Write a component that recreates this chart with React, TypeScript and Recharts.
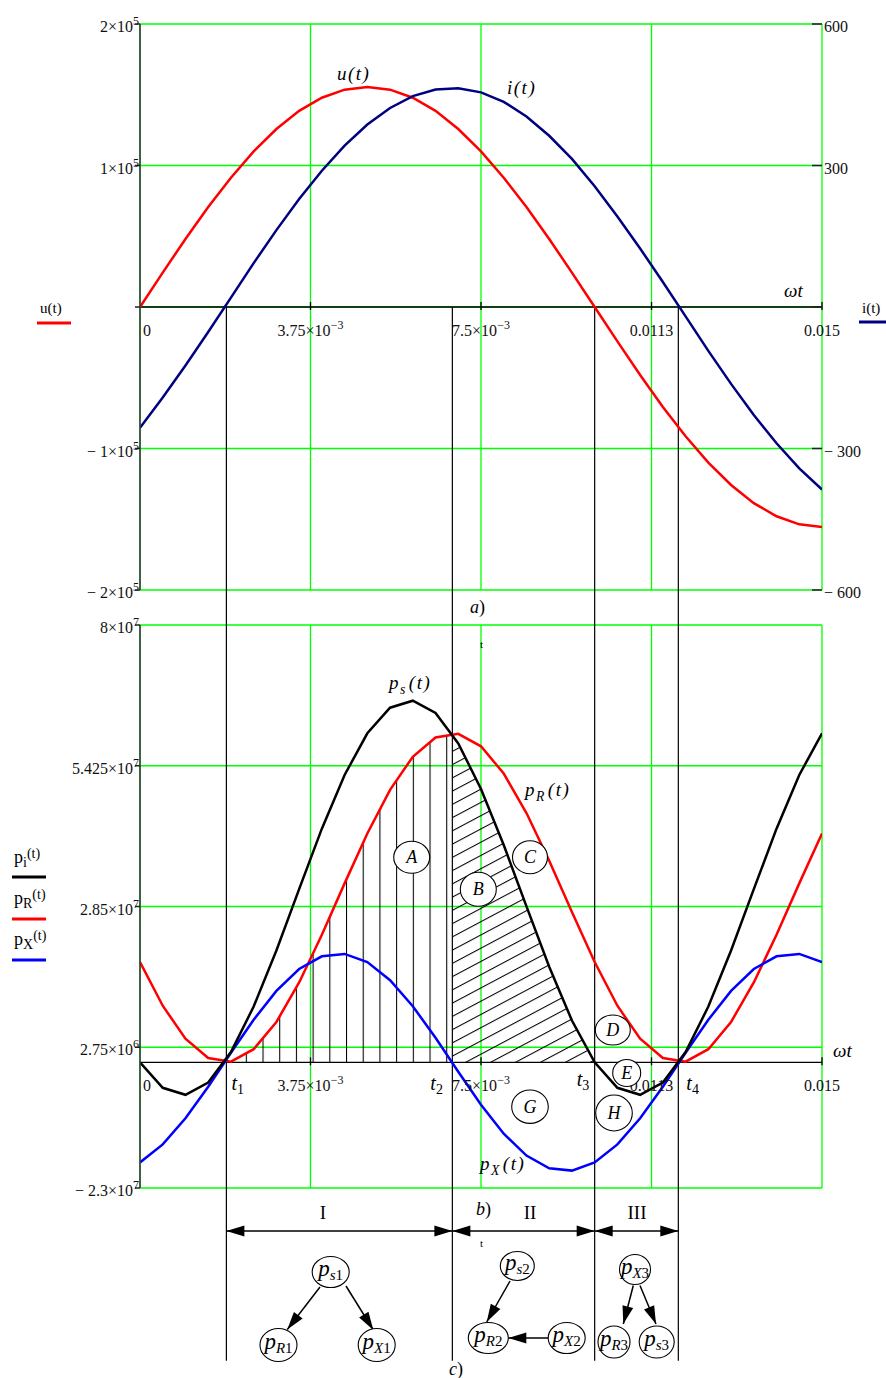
import React from "react";
import {
  ComposedChart,
  Line,
  Area,
  XAxis,
  YAxis,
  CartesianGrid,
  ReferenceLine,
  ReferenceDot,
} from "recharts";

if (typeof document !== "undefined" && document.body) {
  document.body.style.margin = "0";
}

const SERIF = '"Liberation Serif", "DejaVu Serif", "Times New Roman", serif';

// time samples (s)
const times = [
  0, 0.0005, 0.001, 0.0015, 0.002, 0.0025, 0.003, 0.0035, 0.004, 0.0045, 0.005,
  0.0055, 0.006, 0.0065, 0.007, 0.0075, 0.008, 0.0085, 0.009, 0.0095, 0.01,
  0.0105, 0.011, 0.0115, 0.012, 0.0125, 0.013, 0.0135, 0.014, 0.0145, 0.015,
];

// a) voltage u(t), V
const uVals = [
  0, 24300, 48100, 70600, 91400, 110000, 125800, 138600, 147900, 153600, 155500,
  153600, 147900, 138600, 125800, 110000, 91400, 70600, 48100, 24300, 0,
  -24300, -48100, -70600, -91400, -110000, -125800, -138600, -147900, -153600, -155500,
];

// a) current i(t), A
const iVals = [
  -256, -192, -124, -53, 20, 93, 163, 229, 289, 342, 387, 422, 447, 461, 464,
  455, 435, 404, 363, 314, 256, 192, 124, 53, -20, -93, -163, -229, -289, -342, -387,
];

// b) instantaneous powers, W
const psVals = [
  0, -4.67e6, -5.95e6, -3.7e6, 1.86e6, 1.019e7, 2.046e7, 3.167e7, 4.274e7, 5.256e7,
  6.019e7, 6.487e7, 6.615e7, 6.39e7, 5.834e7, 5.001e7, 3.974e7, 2.853e7, 1.747e7,
  7.64e6, 0, -4.67e6, -5.95e6, -3.7e6, 1.86e6, 1.019e7, 2.046e7, 3.167e7, 4.274e7,
  5.256e7, 6.019e7,
];
const pRVals = [
  1.834e7, 1.035e7, 4.3e6, 7.7e5, 1.1e5, 2.39e6, 7.38e6, 1.46e7, 2.333e7, 3.273e7,
  4.186e7, 4.985e7, 5.59e7, 5.943e7, 6.009e7, 5.781e7, 5.282e7, 4.56e7, 3.687e7,
  2.748e7, 1.834e7, 1.035e7, 4.3e6, 7.7e5, 1.1e5, 2.39e6, 7.38e6, 1.46e7, 2.333e7,
  3.273e7, 4.186e7,
];
const pXVals = [
  -1.832e7, -1.502e7, -1.025e7, -4.48e6, 1.74e6, 7.78e6, 1.306e7, 1.706e7, 1.939e7,
  1.982e7, 1.832e7, 1.502e7, 1.025e7, 4.48e6, -1.74e6, -7.78e6, -1.306e7, -1.706e7,
  -1.939e7, -1.982e7, -1.832e7, -1.502e7, -1.025e7, -4.48e6, 1.74e6, 7.78e6,
  1.306e7, 1.706e7, 1.939e7, 1.982e7, 1.832e7,
];

// moments t1..t4 (s)
const tMarks = [0.0019, 0.00687, 0.01, 0.01184];

// ticks and their labels [mantissa, exponent]
const xTicks = [0, 0.00375, 0.0075, 0.01125, 0.015];
const xTickText = [["0", ""], ["3.75×10", "−3"], ["7.5×10", "−3"], ["0.0113", ""], ["0.015", ""]];
const uTicks = [-2e5, -1e5, 0, 1e5, 2e5];
const uTickText = [["− 2×10", "5"], ["− 1×10", "5"], ["", ""], ["1×10", "5"], ["2×10", "5"]];
const iTicks = [-600, -300, 0, 300, 600];
const iTickText = ["− 600", "− 300", "", "300", "600"];
const pTicks = [-2.3e7, 2.75e6, 2.85e7, 5.425e7, 8e7];
const pTickText = [["− 2.3×10", "7"], ["2.75×10", "6"], ["2.85×10", "7"], ["5.425×10", "7"], ["8×10", "7"]];

const topRows = times.map((t, k) => ({ t, u: uVals[k], i: iVals[k] }));
const bottomRows = times.map((t, k) => ({ t, ps: psVals[k], pR: pRVals[k], pX: pXVals[k] }));

const interpAt = (vals: number[], t: number) => {
  let j = times.findIndex((_, idx) => idx < times.length - 1 && times[idx + 1] >= t);
  if (j < 0) j = times.length - 2;
  const f = (t - times[j]) / (times[j + 1] - times[j]);
  return vals[j] + (vals[j + 1] - vals[j]) * f;
};
const hatchBetween = (vals: number[], a: number, b: number) => [
  { t: a, v: interpAt(vals, a) },
  ...times.map((t, k) => ({ t, v: vals[k] })).filter((r) => r.t > a && r.t < b),
  { t: b, v: interpAt(vals, b) },
];
const hatchI = hatchBetween(pRVals, tMarks[0], tMarks[1]);
const hatchII = hatchBetween(psVals, tMarks[1], tMarks[2]);

// plot frame shared by both charts (px)
const PLOT_L = 140;
const PLOT_W = 682;
const xPx = (t: number) => PLOT_L + (t / 0.015) * PLOT_W;

const leftTick = (ticks: number[], labels: string[][]) => (p: any) => {
  const idx = ticks.indexOf(p.payload.value);
  const [m, e] = labels[idx] ?? ["", ""];
  return (
    <g>
      <line x1={p.x - 5} x2={p.x} y1={p.y} y2={p.y} stroke="#222" strokeWidth={1.5} />
      {m && (
        <text x={p.x - 1} y={p.y + 8} textAnchor="end" fontFamily={SERIF} fontSize={16} fill="#111">
          {m}
          <tspan dy={-7} fontSize={12}>{e}</tspan>
        </text>
      )}
    </g>
  );
};

const rightTick = (p: any) => {
  const idx = iTicks.indexOf(p.payload.value);
  const lab = iTickText[idx] ?? "";
  return (
    <g>
      <line x1={p.x - 10} x2={p.x} y1={p.y} y2={p.y} stroke="#222" strokeWidth={1.5} />
      {lab && (
        <text x={p.x + 2} y={p.y + 8} fontFamily={SERIF} fontSize={16} fill="#111">
          {lab}
        </text>
      )}
    </g>
  );
};

const xTickShape = (k: number) => (p: any) => {
  const [m, e] = xTickText[k];
  const first = k === 0;
  return (
    <g>
      {!first && (
        <line x1={p.cx} x2={p.cx} y1={p.cy - 5} y2={p.cy + 3} stroke="#000" strokeWidth={1.3} />
      )}
      <text
        x={first ? p.cx + 3 : p.cx}
        y={p.cy + 29}
        textAnchor={first ? "start" : "middle"}
        fontFamily={SERIF}
        fontSize={16}
        fill="#111"
      >
        {m}
        {e && <tspan dy={-7} fontSize={12}>{e}</tspan>}
      </text>
    </g>
  );
};

function TopChart() {
  return (
    <ComposedChart width={886} height={607} data={topRows} margin={{ top: 24, right: 0, bottom: 17, left: 0 }}>
      <XAxis dataKey="t" type="number" domain={[0, 0.015]} ticks={xTicks} allowDataOverflow hide />
      <YAxis
        yAxisId="u"
        type="number"
        domain={[-2e5, 2e5]}
        ticks={uTicks}
        allowDataOverflow
        width={140}
        tickSize={0}
        tickMargin={0}
        tickLine={false}
        axisLine={{ stroke: "#3a3a3a", strokeWidth: 1.6 }}
        tick={leftTick(uTicks, uTickText)}
      />
      <YAxis
        yAxisId="i"
        orientation="right"
        type="number"
        domain={[-600, 600]}
        ticks={iTicks}
        allowDataOverflow
        width={64}
        tickSize={0}
        tickMargin={0}
        tickLine={false}
        axisLine={false}
        tick={rightTick}
      />
      <CartesianGrid yAxisId="u" stroke="#00ff00" strokeWidth={1.3} />
      <ReferenceLine yAxisId="u" y={0} stroke="#000" strokeWidth={1.3} ifOverflow="visible" />
      {tMarks.map((t) => (
        <ReferenceLine
          key={t}
          yAxisId="u"
          segment={[{ x: t, y: 0 }, { x: t, y: -2.3e5 }]}
          stroke="#000"
          strokeWidth={1.2}
          ifOverflow="visible"
        />
      ))}
      {xTicks.map((t, k) => (
        <ReferenceDot key={t} yAxisId="u" x={t} y={0} r={0} ifOverflow="visible" shape={xTickShape(k)} />
      ))}
      <Line yAxisId="u" type="linear" dataKey="u" stroke="#ff0000" strokeWidth={2.5} dot={false} isAnimationActive={false} />
      <Line yAxisId="i" type="linear" dataKey="i" stroke="#000080" strokeWidth={2.5} dot={false} isAnimationActive={false} />
    </ComposedChart>
  );
}

function BottomChart() {
  return (
    <ComposedChart width={886} height={771} data={bottomRows} margin={{ top: 18, right: 64, bottom: 190, left: 0 }}>
      <defs>
        <pattern id="vHatch" patternUnits="userSpaceOnUse" x={12} y={0} width={16.7} height={10}>
          <line x1={0.5} y1={0} x2={0.5} y2={10} stroke="#000" strokeWidth={1.1} />
        </pattern>
        <pattern id="dHatch" patternUnits="userSpaceOnUse" width={12} height={11.7} patternTransform="rotate(-28)">
          <line x1={0} y1={0.5} x2={12} y2={0.5} stroke="#000" strokeWidth={1.1} />
        </pattern>
      </defs>
      <XAxis dataKey="t" type="number" domain={[0, 0.015]} ticks={xTicks} allowDataOverflow hide />
      <YAxis
        type="number"
        domain={[-2.3e7, 8e7]}
        ticks={pTicks}
        allowDataOverflow
        width={140}
        tickSize={0}
        tickMargin={0}
        tickLine={false}
        axisLine={{ stroke: "#3a3a3a", strokeWidth: 1.6 }}
        tick={leftTick(pTicks, pTickText)}
      />
      <CartesianGrid stroke="#00ff00" strokeWidth={1.3} />
      <Area data={hatchI} type="linear" dataKey="v" stroke="none" fill="url(#vHatch)" fillOpacity={1} baseValue={0} isAnimationActive={false} />
      <Area data={hatchII} type="linear" dataKey="v" stroke="none" fill="url(#dHatch)" fillOpacity={1} baseValue={0} isAnimationActive={false} />
      <ReferenceLine y={0} stroke="#000" strokeWidth={1.3} ifOverflow="visible" />
      {tMarks.map((t) => (
        <ReferenceLine
          key={t}
          segment={[{ x: t, y: 8.6e7 }, { x: t, y: -5.46e7 }]}
          stroke="#000"
          strokeWidth={1.2}
          ifOverflow="visible"
        />
      ))}
      {xTicks.map((t, k) => (
        <ReferenceDot key={t} x={t} y={0} r={0} ifOverflow="visible" shape={xTickShape(k)} />
      ))}
      <Line type="linear" dataKey="pR" stroke="#ff0000" strokeWidth={2.5} dot={false} isAnimationActive={false} />
      <Line type="linear" dataKey="pX" stroke="#0000ff" strokeWidth={2.5} dot={false} isAnimationActive={false} />
      <Line type="linear" dataKey="ps" stroke="#000000" strokeWidth={2.5} dot={false} isAnimationActive={false} />
    </ComposedChart>
  );
}

const PName = ({ x, y, sub, size = 19, anchor = "start" }: any) => (
  <text x={x} y={y} textAnchor={anchor} fontFamily={SERIF} fontSize={size} fontStyle="italic" fill="#000" letterSpacing={1.5}>
    p<tspan fontSize={size * 0.72} dy={5}>{sub}</tspan>
    <tspan dy={-5} dx={2}>(t)</tspan>
  </text>
);

const LegendName = ({ x, y, sub }: any) => (
  <text x={x} y={y} fontFamily={SERIF} fontSize={18} fill="#000">
    p<tspan fontSize={14} dy={4}>{sub}</tspan>
    <tspan fontSize={14} dy={-9}>(t)</tspan>
  </text>
);

const Bubble = ({ cx, cy, rx, ry, children, size = 18 }: any) => (
  <g>
    <ellipse cx={cx} cy={cy} rx={rx} ry={ry} fill="#fff" stroke="#000" strokeWidth={1.1} />
    <text x={cx} y={cy + size * 0.33} textAnchor="middle" fontFamily={SERIF} fontSize={size} fontStyle="italic" fill="#000">
      {children}
    </text>
  </g>
);

const Head = ({ x1, y1, x2, y2, len = 18, half = 5.5 }: any) => {
  const d = Math.hypot(x2 - x1, y2 - y1);
  const ux = (x2 - x1) / d;
  const uy = (y2 - y1) / d;
  const bx = x2 - ux * len;
  const by = y2 - uy * len;
  return <polygon points={`${x2},${y2} ${bx - uy * half},${by + ux * half} ${bx + uy * half},${by - ux * half}`} fill="#000" />;
};

const Arrow = ({ x1, y1, x2, y2, both = false }: any) => (
  <g>
    <line x1={x1} y1={y1} x2={x2} y2={y2} stroke="#000" strokeWidth={1.5} />
    <Head x1={x1} y1={y1} x2={x2} y2={y2} />
    {both && <Head x1={x2} y1={y2} x2={x1} y2={y1} />}
  </g>
);

const NodeLabel = ({ cx, cy, rx, ry, sub, n }: any) => (
  <g>
    <ellipse cx={cx} cy={cy} rx={rx} ry={ry} fill="#fff" stroke="#000" strokeWidth={1.1} />
    <text x={cx} y={cy + 4} textAnchor="middle" fontFamily={SERIF} fontSize={23} fontStyle="italic" fill="#000">
      p<tspan fontSize={15} dy={4}>{sub}</tspan>
      <tspan fontSize={15} fontStyle="normal">{n}</tspan>
    </text>
  </g>
);

const treeNodes = [
  { cx: 330.7, cy: 1272, rx: 18.5, ry: 15.5, sub: "s", n: "1" },
  { cx: 278.5, cy: 1345, rx: 18.5, ry: 16.5, sub: "R", n: "1" },
  { cx: 376.7, cy: 1345, rx: 18.5, ry: 16.5, sub: "X", n: "1" },
  { cx: 517.3, cy: 1266, rx: 17, ry: 14.5, sub: "s", n: "2" },
  { cx: 488.3, cy: 1338, rx: 20, ry: 15.5, sub: "R", n: "2" },
  { cx: 566.7, cy: 1338, rx: 18.5, ry: 15.5, sub: "X", n: "2" },
  { cx: 635, cy: 1269.5, rx: 15.5, ry: 15, sub: "X", n: "3" },
  { cx: 614, cy: 1342, rx: 16, ry: 16, sub: "R", n: "3" },
  { cx: 656.7, cy: 1342, rx: 17.5, ry: 16, sub: "s", n: "3" },
];
const treeArrows = [
  [320, 1287, 287.3, 1329.5],
  [346, 1286, 373.3, 1330],
  [510, 1281, 486.7, 1322],
  [548.3, 1338, 508.3, 1338],
  [633.3, 1285.5, 623.3, 1324],
  [640, 1285.5, 656, 1324],
];

function Annotations() {
  const [t1, t2, t3, t4] = tMarks.map(xPx);
  const arrowY = 1231;
  return (
    <svg width={886} height={1378} style={{ position: "absolute", left: 0, top: 0, pointerEvents: "none" }}>
      {/* a) legends */}
      <text x={40} y={313} fontFamily={SERIF} fontSize={15}>u(t)</text>
      <line x1={37} x2={71} y1={323} y2={323} stroke="#ff0000" strokeWidth={3} />
      <text x={862} y={313} fontFamily={SERIF} fontSize={15}>i(t)</text>
      <line x1={859} x2={886} y1={322} y2={322} stroke="#000080" strokeWidth={3} />
      <text x={337} y={80} fontFamily={SERIF} fontSize={19} fontStyle="italic" letterSpacing={1.5}>u(t)</text>
      <text x={507} y={94} fontFamily={SERIF} fontSize={19} fontStyle="italic" letterSpacing={1.5}>i(t)</text>
      <text x={784} y={297} fontFamily={SERIF} fontSize={19} fontStyle="italic">ωt</text>
      <text x={470} y={613} fontFamily={SERIF} fontSize={18}>
        <tspan fontStyle="italic">a</tspan>)
      </text>
      <text x={480} y={648} fontFamily={SERIF} fontSize={11}>t</text>

      {/* b) legends */}
      <LegendName x={14} y={863} sub="i" />
      <line x1={12} x2={46} y1={877} y2={877} stroke="#000" strokeWidth={3} />
      <LegendName x={14} y={904} sub="R" />
      <line x1={12} x2={46} y1={919} y2={919} stroke="#ff0000" strokeWidth={3} />
      <LegendName x={14} y={945} sub="X" />
      <line x1={12} x2={46} y1={960} y2={960} stroke="#0000ff" strokeWidth={3} />

      <PName x={389} y={689} sub="s" />
      <PName x={525} y={796} sub="R" />
      <PName x={480} y={1170} sub="X" />
      <text x={833} y={1057} fontFamily={SERIF} fontSize={19} fontStyle="italic">ωt</text>

      <Bubble cx={411.7} cy={857.3} rx={18} ry={16}>A</Bubble>
      <Bubble cx={478.3} cy={889.3} rx={18} ry={17}>B</Bubble>
      <Bubble cx={530} cy={857.3} rx={17.5} ry={16.5}>C</Bubble>
      <Bubble cx={612.8} cy={1030} rx={17.5} ry={15}>D</Bubble>
      <Bubble cx={626.7} cy={1073} rx={14} ry={13.5}>E</Bubble>
      <Bubble cx={530} cy={1106.7} rx={18.3} ry={16.7}>G</Bubble>
      <Bubble cx={614} cy={1113} rx={18.3} ry={18}>H</Bubble>

      {[[t1 + 5, 1090, "1"], [t2 - 22, 1090, "2"], [t3 - 18, 1086, "3"], [t4 + 8, 1090, "4"]].map(([x, y, n]: any) => (
        <text key={n} x={x} y={y} fontFamily={SERIF} fontSize={20} fontStyle="italic">
          t<tspan fontSize={14} fontStyle="normal" dy={4}>{n}</tspan>
        </text>
      ))}

      {/* region arrows */}
      <Arrow x1={t1} y1={arrowY} x2={t2} y2={arrowY} both />
      <Arrow x1={t2} y1={arrowY} x2={t3} y2={arrowY} both />
      <Arrow x1={t3} y1={arrowY} x2={t4} y2={arrowY} both />
      <text x={323} y={1219} textAnchor="middle" fontFamily={SERIF} fontSize={19}>I</text>
      <text x={530} y={1219} textAnchor="middle" fontFamily={SERIF} fontSize={19}>II</text>
      <text x={637} y={1219} textAnchor="middle" fontFamily={SERIF} fontSize={19}>III</text>
      <text x={476} y={1215} fontFamily={SERIF} fontSize={18}>
        <tspan fontStyle="italic">b</tspan>)
      </text>
      <text x={480} y={1247} fontFamily={SERIF} fontSize={11}>t</text>

      {/* c) power flow diagrams */}
      {treeArrows.map(([x1, y1, x2, y2], k) => (
        <Arrow key={k} x1={x1} y1={y1} x2={x2} y2={y2} />
      ))}
      {treeNodes.map((nd, k) => (
        <NodeLabel key={k} {...nd} />
      ))}
      <text x={449} y={1375} fontFamily={SERIF} fontSize={18}>
        <tspan fontStyle="italic">c</tspan>)
      </text>
    </svg>
  );
}

export default function App() {
  return (
    <div style={{ position: "relative", width: 886, height: 1378, background: "#fff", overflow: "hidden" }}>
      <div style={{ position: "absolute", left: 0, top: 0 }}>
        <TopChart />
      </div>
      <div style={{ position: "absolute", left: 0, top: 607 }}>
        <BottomChart />
      </div>
      <Annotations />
    </div>
  );
}
